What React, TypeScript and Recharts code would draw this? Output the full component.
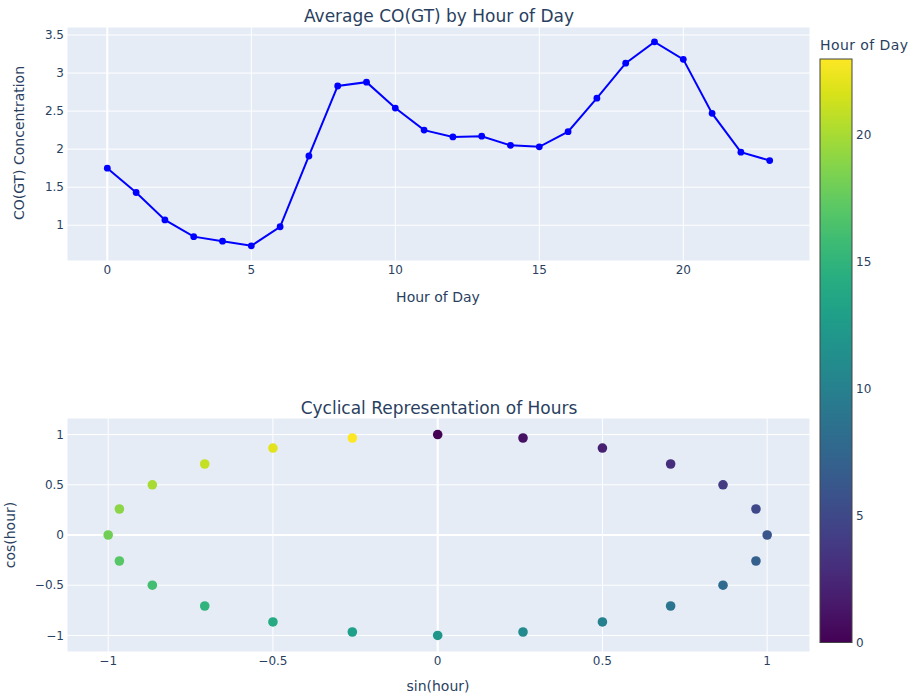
import React from 'react';
import {
  LineChart, Line, ScatterChart, Scatter, XAxis, YAxis, CartesianGrid, ReferenceLine,
} from 'recharts';

// ---- Data ----
const hours = [0, 1, 2, 3, 4, 5, 6, 7, 8, 9, 10, 11, 12, 13, 14, 15, 16, 17, 18, 19, 20, 21, 22, 23];
const coValues = [1.75, 1.43, 1.07, 0.85, 0.79, 0.73, 0.98, 1.91, 2.83, 2.88, 2.54, 2.25, 2.16, 2.17, 2.05, 2.03, 2.23, 2.67, 3.13, 3.41, 3.18, 2.47, 1.96, 1.85];
const sinHour = [0, 0.259, 0.5, 0.707, 0.866, 0.966, 1, 0.966, 0.866, 0.707, 0.5, 0.259, 0, -0.259, -0.5, -0.707, -0.866, -0.966, -1, -0.966, -0.866, -0.707, -0.5, -0.259];
const cosHour = [1, 0.966, 0.866, 0.707, 0.5, 0.259, 0, -0.259, -0.5, -0.707, -0.866, -0.966, -1, -0.966, -0.866, -0.707, -0.5, -0.259, 0, 0.259, 0.5, 0.707, 0.866, 0.966];

const topXTicks = [0, 5, 10, 15, 20];
const topYTicks = [1, 1.5, 2, 2.5, 3, 3.5];
const botXTicks = [-1, -0.5, 0, 0.5, 1];
const botYTicks = [-1, -0.5, 0, 0.5, 1];
const colorbarTicks = [0, 5, 10, 15, 20];
const colorMin = 0;
const colorMax = 23;

const lineData = hours.map((h, i) => ({ hour: h, co: coValues[i] }));
const scatterData = hours.map((h, i) => ({ hour: h, x: sinHour[i], y: cosHour[i] }));

// ---- Styles ----
const FONT = '"DejaVu Sans", Verdana, sans-serif';
const TEXT = '#2a3f5f';
const PLOT_BG = '#E5ECF6';

const VIRIDIS: [number, string][] = [
  [0, '#440154'], [0.0627, '#48186a'], [0.1255, '#472d7b'], [0.1882, '#424086'],
  [0.251, '#3b528b'], [0.3137, '#33638d'], [0.3765, '#2c728e'], [0.4392, '#26828e'],
  [0.502, '#21918c'], [0.5647, '#1fa088'], [0.6275, '#28ae80'], [0.6902, '#3fbc73'],
  [0.7529, '#5ec962'], [0.8157, '#84d44b'], [0.8784, '#addc30'], [0.9412, '#d8e219'],
  [1, '#fde725'],
];

function hexToRgb(h: string) {
  return [parseInt(h.slice(1, 3), 16), parseInt(h.slice(3, 5), 16), parseInt(h.slice(5, 7), 16)];
}
function viridis(t: number) {
  const v = Math.max(0, Math.min(1, t));
  for (let i = 0; i < VIRIDIS.length - 1; i++) {
    const [a, ca] = VIRIDIS[i];
    const [b, cb] = VIRIDIS[i + 1];
    if (v <= b) {
      const f = (v - a) / (b - a);
      const A = hexToRgb(ca), B = hexToRgb(cb);
      const c = A.map((x, k) => Math.round(x + (B[k] - x) * f));
      return `rgb(${c[0]},${c[1]},${c[2]})`;
    }
  }
  return VIRIDIS[VIRIDIS.length - 1][1];
}

const fmt = (v: number) => String(v).replace('-', '\u2212');
const tickStyle = { fill: TEXT, fontSize: 12, fontFamily: FONT };

const CB_TOP = 59;
const CB_BOTTOM = 642.5;
const CB_LEFT = 820;
const CB_WIDTH = 32;
const cbY = (v: number) => CB_BOTTOM - ((v - colorMin) / (colorMax - colorMin)) * (CB_BOTTOM - CB_TOP);

export default function App() {
  return (
    <div style={{ position: 'absolute', left: 0, top: 0, width: 916, height: 698, background: '#fff', fontFamily: FONT }}>
      <div style={{ position: 'absolute', left: 0, top: 0 }}>
        <LineChart width={916} height={300} data={lineData} margin={{ top: 27, right: 106, bottom: 9, left: 27 }}>
          <CartesianGrid fill={PLOT_BG} fillOpacity={1} stroke="#ffffff" strokeWidth={1} />
          <XAxis
            dataKey="hour" type="number" domain={[-1.4, 24.4]} ticks={topXTicks} interval={0}
            axisLine={false} tickLine={false} tickSize={0} tickMargin={4} height={30}
            tick={tickStyle} tickFormatter={fmt} allowDataOverflow
          />
          <YAxis
            type="number" domain={[0.53, 3.605]} ticks={topYTicks} interval={0}
            axisLine={false} tickLine={false} tickSize={0} tickMargin={3} width={40}
            tick={tickStyle} tickFormatter={fmt} allowDataOverflow
          />
          <ReferenceLine x={0} stroke="#ffffff" strokeWidth={2} />
          <Line
            dataKey="co" stroke="#0000ff" strokeWidth={2} isAnimationActive={false}
            dot={{ r: 3.4, fill: '#0000ff', stroke: '#0000ff', strokeWidth: 0 }} activeDot={false}
          />
        </LineChart>
      </div>
      <div style={{ position: 'absolute', left: 0, top: 390 }}>
        <ScatterChart width={916} height={308} margin={{ top: 28, right: 106, bottom: 16, left: 27 }}>
          <CartesianGrid fill={PLOT_BG} fillOpacity={1} stroke="#ffffff" strokeWidth={1} />
          <XAxis
            dataKey="x" type="number" domain={[-1.125, 1.13]} ticks={botXTicks} interval={0}
            axisLine={false} tickLine={false} tickSize={0} tickMargin={4} height={30}
            tick={tickStyle} tickFormatter={fmt} allowDataOverflow
          />
          <YAxis
            dataKey="y" type="number" domain={[-1.165, 1.165]} ticks={botYTicks} interval={0}
            axisLine={false} tickLine={false} tickSize={0} tickMargin={3} width={40}
            tick={tickStyle} tickFormatter={fmt} allowDataOverflow
          />
          <ReferenceLine x={0} stroke="#ffffff" strokeWidth={2} />
          <ReferenceLine y={0} stroke="#ffffff" strokeWidth={2} />
          <Scatter
            data={scatterData} isAnimationActive={false}
            shape={(p: any) => (
              <circle cx={p.cx} cy={p.cy} r={4.8}
                fill={viridis((p.payload.hour - colorMin) / (colorMax - colorMin))} />
            )}
          />
        </ScatterChart>
      </div>
      <svg width={916} height={698} style={{ position: 'absolute', left: 0, top: 0, pointerEvents: 'none' }}>
        <defs>
          <linearGradient id="viridisGrad" x1="0" y1="1" x2="0" y2="0">
            {VIRIDIS.map(([o, c]) => (
              <stop key={o} offset={o} stopColor={c} />
            ))}
          </linearGradient>
        </defs>
        <text x={439} y={22} textAnchor="middle" fontSize={17} fill={TEXT} fontFamily={FONT}>Average CO(GT) by Hour of Day</text>
        <text x={438} y={302} textAnchor="middle" fontSize={14} fill={TEXT} fontFamily={FONT}>Hour of Day</text>
        <text x={24} y={143} textAnchor="middle" fontSize={14} fill={TEXT} fontFamily={FONT} transform="rotate(-90 24 143)">CO(GT) Concentration</text>

        <text x={439} y={414} textAnchor="middle" fontSize={17} fill={TEXT} fontFamily={FONT}>Cyclical Representation of Hours</text>
        <text x={438} y={691} textAnchor="middle" fontSize={14} fill={TEXT} fontFamily={FONT}>sin(hour)</text>
        <text x={15} y={535} textAnchor="middle" fontSize={14} fill={TEXT} fontFamily={FONT} transform="rotate(-90 15 535)">cos(hour)</text>

        <text x={CB_LEFT} y={50} fontSize={14} fill={TEXT} fontFamily={FONT} textLength={88} lengthAdjust="spacing">Hour of Day</text>
        <rect x={CB_LEFT} y={CB_TOP} width={CB_WIDTH} height={CB_BOTTOM - CB_TOP} fill="url(#viridisGrad)" stroke="#444" strokeWidth={1} />
        {colorbarTicks.map((t) => (
          <text key={t} x={CB_LEFT + CB_WIDTH + 4} y={cbY(t)} dy="0.36em" fontSize={12} fill={TEXT} fontFamily={FONT}>{fmt(t)}</text>
        ))}
      </svg>
    </div>
  );
}
